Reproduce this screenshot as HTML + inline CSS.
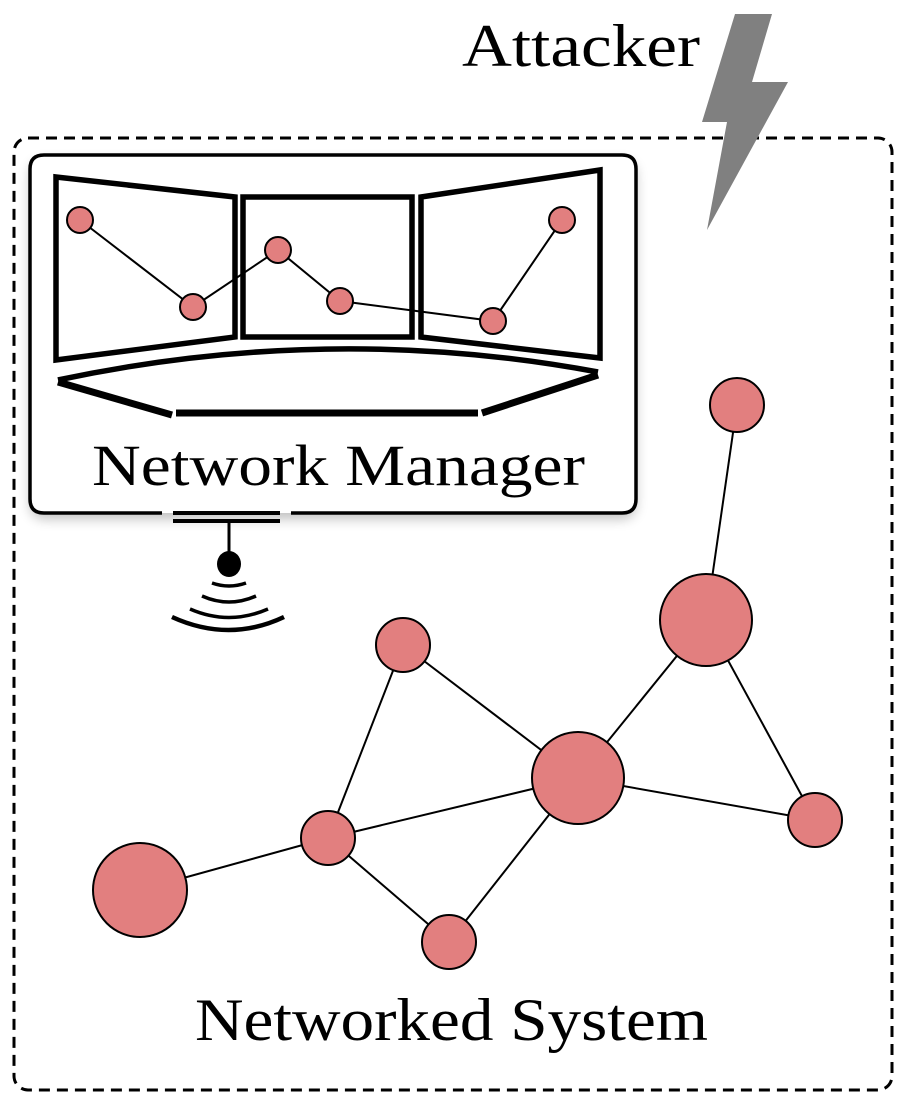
<!DOCTYPE html>
<html><head><style>
html,body{margin:0;padding:0;background:#fff;}
svg{display:block;}
text{font-family:"Liberation Serif",serif;fill:#000;}
</style></head><body>
<svg width="904" height="1105" viewBox="0 0 904 1105" xmlns="http://www.w3.org/2000/svg">
<defs>
<filter id="sh" x="-10%" y="-10%" width="130%" height="130%">
<feGaussianBlur in="SourceAlpha" stdDeviation="6"/>
<feOffset dx="0" dy="6"/>
<feComponentTransfer><feFuncA type="linear" slope="0.25"/></feComponentTransfer>
<feMerge><feMergeNode/><feMergeNode in="SourceGraphic"/></feMerge>
</filter>
</defs>
<rect x="14" y="138" width="878" height="952" rx="14" fill="none" stroke="#000" stroke-width="3" stroke-dasharray="11,7"/>
<polygon points="735,14 772,14 752,82 788,82 707,230 727,122 702,122" fill="#808080"/>
<text x="462" y="66" font-size="60" textLength="238" lengthAdjust="spacingAndGlyphs">Attacker</text>

<g filter="url(#sh)">
<rect x="30" y="155" width="606" height="358" rx="14" fill="#fff" stroke="none"/>
</g>
<path d="M162,513 H44 Q30,513 30,499 V169 Q30,155 44,155 H622 Q636,155 636,169 V499 Q636,513 622,513 H291" fill="none" stroke="#000" stroke-width="3.5"/>
<line x1="173" y1="513" x2="280" y2="513" stroke="#000" stroke-width="4"/>
<line x1="173" y1="521" x2="280" y2="521" stroke="#000" stroke-width="4"/>
<line x1="229" y1="521" x2="229" y2="555" stroke="#000" stroke-width="3"/>
<ellipse cx="229" cy="564" rx="12" ry="13" fill="#000"/>
<g fill="none" stroke="#000" stroke-width="3.5">
<path d="M212,583 Q229,589 246,583"/>
<path d="M202,596 Q229,608 256,596"/>
<path d="M190,609 Q229,626 268,609"/>
<path d="M172,617 Q229,643 284,617" stroke-width="4.5"/>
</g>

<g fill="none" stroke="#000" stroke-width="5.5">
<polygon points="56,177 235,197 235,337 56,360"/>
<rect x="243" y="197" width="169" height="140"/>
<polygon points="421,197 600,170 600,358 421,337"/>
<path d="M58,380 Q330,322 598,372"/>
</g>
<g fill="none" stroke="#000" stroke-width="7">
<line x1="58" y1="382" x2="172" y2="415"/>
<line x1="176" y1="413" x2="478" y2="413"/>
<line x1="482" y1="413" x2="598" y2="375"/>
</g>
<g stroke="#000" stroke-width="2">
<polyline points="80,220 193,307 278,250 340,301 493,321 562,220" fill="none"/>
</g>
<g fill="#e27f7f" stroke="#000" stroke-width="2">
<circle cx="80" cy="220" r="13"/><circle cx="193" cy="307" r="13"/><circle cx="278" cy="250" r="13"/>
<circle cx="340" cy="301" r="13"/><circle cx="493" cy="321" r="13"/><circle cx="562" cy="220" r="13"/>
</g>
<text x="92" y="485" font-size="58" textLength="493" lengthAdjust="spacingAndGlyphs">Network Manager</text>

<g stroke="#000" stroke-width="2">
<line x1="737" y1="405" x2="706" y2="620"/>
<line x1="706" y1="620" x2="578" y2="778"/>
<line x1="706" y1="620" x2="815" y2="820"/>
<line x1="403" y1="645" x2="578" y2="778"/>
<line x1="403" y1="645" x2="328" y2="838"/>
<line x1="578" y1="778" x2="815" y2="820"/>
<line x1="578" y1="778" x2="328" y2="838"/>
<line x1="578" y1="778" x2="449" y2="942"/>
<line x1="328" y1="838" x2="140" y2="890"/>
<line x1="328" y1="838" x2="449" y2="942"/>
</g>
<g fill="#e27f7f" stroke="#000" stroke-width="2">
<circle cx="737" cy="405" r="27"/><circle cx="706" cy="620" r="46"/><circle cx="403" cy="645" r="27"/>
<circle cx="578" cy="778" r="46"/><circle cx="815" cy="820" r="27"/><circle cx="328" cy="838" r="27"/>
<circle cx="140" cy="890" r="47"/><circle cx="449" cy="942" r="27"/>
</g>
<text x="195" y="1040" font-size="60" textLength="513" lengthAdjust="spacingAndGlyphs">Networked System</text>
</svg>
</body></html>
